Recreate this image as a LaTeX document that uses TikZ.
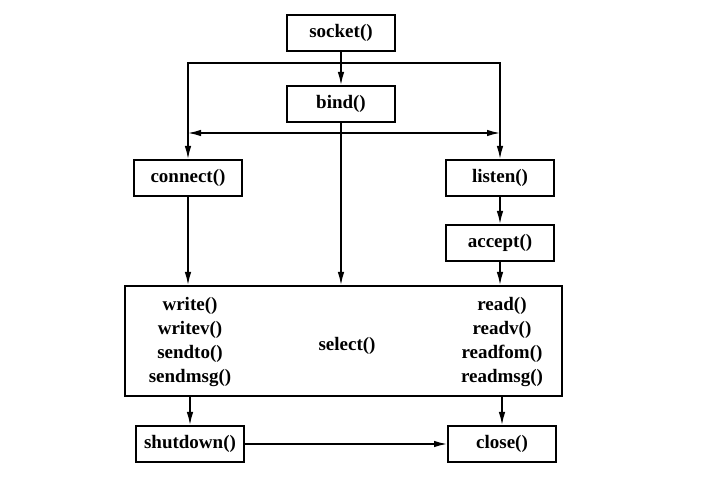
\documentclass[tikz,border=0pt]{standalone}
\usepackage{fontspec}
\setmainfont{Liberation Serif}
\usetikzlibrary{positioning, arrows.meta}

\begin{document}
\begin{tikzpicture}[
  x=1pt, y=-1pt,
  box/.style={draw, line width=2pt, minimum width=108pt, minimum height=36pt,
              inner sep=0pt, font=\fontsize{19}{23.7}\selectfont\bfseries},
  call/.style={align=center, inner sep=0pt, font=\fontsize{19}{23.7}\selectfont\bfseries},
  flow/.style={line width=1.4pt},
  >={Latex[length=13pt,width=6.5pt]}
]
  \useasboundingbox (0,0) rectangle (710,486);
  \node[box] (socket) at (341,33) {socket()};
  \node[box, below=33pt of socket] (bind) {bind()};
  \node[box] (connect) at (188,178) {connect()};
  \node[box] (listen) at (500,178) {listen()};
  \node[box, below=27pt of listen] (accept) {accept()};
  \node[box, minimum width=437pt, minimum height=110pt] (select) at (343,341) {};
  \node[call] (selectlbl) at (347,346) {select()};
  \node[call] (sendfns) at (190,342) {write()\\writev()\\sendto()\\sendmsg()};
  \node[call] (recvfns) at (502,342) {read()\\readv()\\readfom()\\readmsg()};
  \node[box] (shutdown) at (190,444) {shutdown()};
  \node[box] (close) at (502,444) {close()};

  \coordinate (fork) at (341,63);
  \coordinate (spread) at (341,133);
  \draw[flow, ->] (socket) -- (bind);
  \draw[flow, ->] (fork) -| (connect);
  \draw[flow, ->] (fork) -| (listen);
  \draw[flow, <->] (spread -| connect) -- (spread -| listen);
  \draw[flow, ->] (bind) -- (bind |- select.north);
  \draw[flow, ->] (connect) -- (connect |- select.north);
  \draw[flow, ->] (listen) -- (accept);
  \draw[flow, ->] (accept) -- (accept |- select.north);
  \draw[flow, ->] (select.south -| shutdown) -- (shutdown);
  \draw[flow, ->] (select.south -| close) -- (close);
  \draw[flow, ->] (shutdown) -- (close);
\end{tikzpicture}
\end{document}
